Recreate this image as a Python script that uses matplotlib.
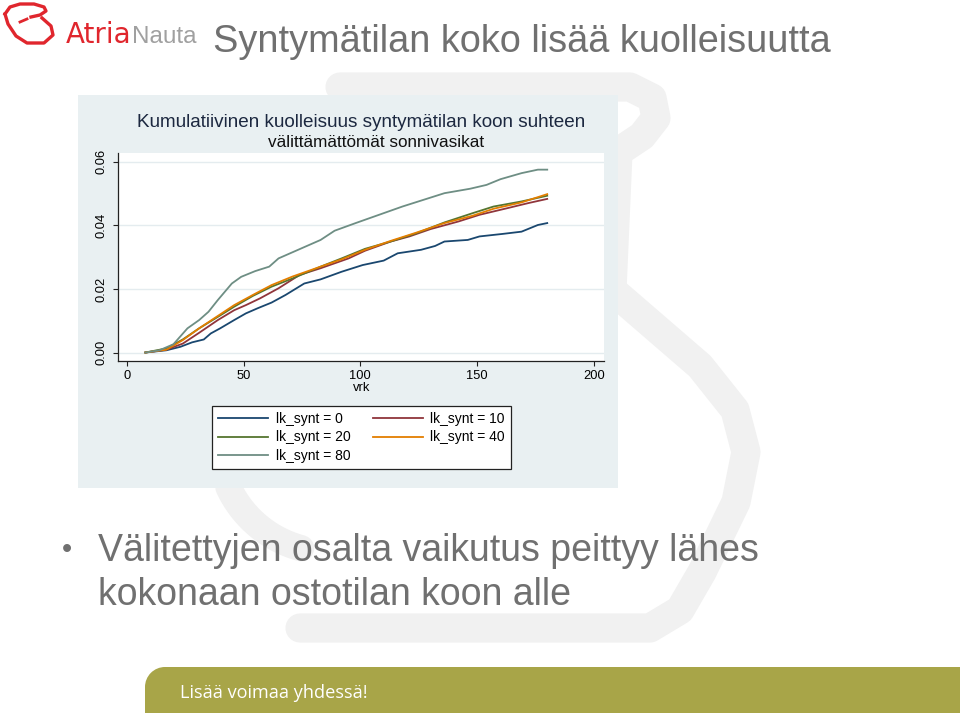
import matplotlib
matplotlib.use('Agg')
import matplotlib.pyplot as plt
from matplotlib import font_manager
from matplotlib.patches import Rectangle, Circle
import numpy as np

# cumulative mortality (days, share)
days_0 = [8, 17, 23, 28, 33, 36, 40, 46, 51, 56, 62, 68, 76, 83, 92, 101, 110,
          116, 126, 132, 136, 146, 151, 161, 169, 176, 180]
mort_0 = [0, 0.0007, 0.0018, 0.0032, 0.0041, 0.006, 0.0076, 0.0102, 0.0123,
          0.0139, 0.0157, 0.0181, 0.0217, 0.023, 0.0254, 0.0275, 0.0289, 0.0312,
          0.0323, 0.0335, 0.0349, 0.0354, 0.0365, 0.0373, 0.038, 0.0401, 0.0407]

days_10 = [8, 17, 24, 31, 39, 46, 51, 57, 65, 74, 83, 95, 102, 113, 121, 130,
           142, 151, 163, 172, 180]
mort_10 = [0, 0.0009, 0.0028, 0.0062, 0.0102, 0.0133, 0.0149, 0.017, 0.0202,
           0.0244, 0.0265, 0.0296, 0.032, 0.0349, 0.0365, 0.0388, 0.0412, 0.0433,
           0.0454, 0.047, 0.0483]

days_20 = [8, 17, 24, 31, 39, 46, 54, 62, 71, 83, 92, 102, 113, 124, 136, 148,
           157, 169, 180]
mort_20 = [0, 0.0013, 0.0041, 0.0076, 0.0112, 0.0144, 0.0178, 0.0207, 0.0233,
           0.027, 0.0296, 0.0326, 0.0349, 0.0375, 0.0409, 0.0438, 0.0459, 0.0475,
           0.0493]

days_40 = [8, 17, 24, 31, 39, 46, 54, 62, 71, 83, 92, 102, 113, 124, 136, 148,
           157, 169, 180]
mort_40 = [0, 0.0009, 0.0039, 0.0076, 0.0115, 0.0149, 0.0181, 0.0212, 0.0239,
           0.027, 0.0293, 0.0323, 0.0351, 0.0377, 0.0407, 0.043, 0.0452, 0.0472,
           0.0498]

days_80 = [8, 14, 20, 26, 31, 35, 39, 45, 49, 55, 61, 65, 74, 83, 89, 98, 108,
           118, 127, 136, 147, 154, 160, 169, 176, 180]
mort_80 = [0, 0.0007, 0.0026, 0.0076, 0.0102, 0.0128, 0.0165, 0.0217, 0.0238,
           0.0256, 0.027, 0.0296, 0.0325, 0.0354, 0.0383, 0.0407, 0.0433, 0.0459,
           0.048, 0.0501, 0.0515, 0.0527, 0.0545, 0.0564, 0.0575, 0.0575]

series_labels = ['lk_synt = 0', 'lk_synt = 10', 'lk_synt = 20',
                 'lk_synt = 40', 'lk_synt = 80']
series_colors = ['#1a476f', '#90353b', '#55752f', '#e37e00', '#6e8e84']

x_ticks = [0, 50, 100, 150, 200]
y_ticks = [0.00, 0.02, 0.04, 0.06]

slide_title = 'Syntymätilan koko lisää kuolleisuutta'
chart_title = 'Kumulatiivinen kuolleisuus syntymätilan koon suhteen'
chart_subtitle = 'välittämättömät sonnivasikat'
bullet_lines = ['Välitettyjen osalta vaikutus peittyy lähes',
                'kokonaan ostotilan koon alle']
footer_text = 'Lisää voimaa yhdessä!'

installed = {f.name for f in font_manager.fontManager.ttflist}


def pick(*families):
    for fam in families:
        if fam in installed:
            return fam
    return 'DejaVu Sans'


plt.rcParams['font.family'] = ['Liberation Sans', 'DejaVu Sans']

W, H = 960, 715
fig = plt.figure(figsize=(W / 100, H / 100), dpi=100)
fig.patch.set_facecolor('white')


def fx(px):
    return px / W


def fy(py):
    return 1 - py / H


# slide background, pixel coordinates
bg = fig.add_axes([0, 0, 1, 1], zorder=0)
bg.set_xlim(0, W)
bg.set_ylim(H, 0)
bg.axis('off')

# watermark (big faint logo outline)
wm = '#f1f1f1'
wx = [340, 630, 652, 656, 642, 618, 612, 700, 735, 746, 736, 702, 680, 650, 300]
wy = [87, 87, 98, 118, 136, 152, 290, 366, 410, 452, 502, 572, 610, 628, 628]
bg.plot(wx, wy, color=wm, lw=21, solid_joinstyle='round',
        solid_capstyle='round', zorder=1)
arc = np.radians(np.linspace(105, 155, 20))
bg.plot(330 + 112 * np.cos(arc), 440 + 112 * np.sin(arc), color=wm, lw=19,
        solid_capstyle='round', zorder=1)

# chart background (Stata graph region)
bg.add_patch(Rectangle((78, 95), 540, 393, facecolor='#e9f0f2',
                       edgecolor='none', zorder=2))

# logo
red = '#e0262d'
bg.plot([5, 10, 20, 34, 44, 46, 40, 31], [14, 7, 4, 4, 7, 11, 15, 17],
        color=red, lw=2.4, solid_joinstyle='round', zorder=3)
bg.plot([5, 8, 16, 27, 44, 53, 51, 42], [14, 24, 36, 43, 43, 35, 26, 18],
        color=red, lw=2.4, solid_joinstyle='round', zorder=3)
bg.plot([20, 27], [22, 19], color=red, lw=2.0, zorder=3)
tA = bg.text(66, 43, 'Atria', color=red, fontsize=20, family='DejaVu Sans',
             ha='left', va='baseline', zorder=3)
fig.canvas.draw()
bbA = tA.get_window_extent()
bg.text(66 + bbA.width, 43, 'Nauta', color='#a0a0a0', fontsize=17.5,
        ha='left', va='baseline', zorder=3)

# slide title
bg.text(213, 52, slide_title, color='#707070', fontsize=27.3, ha='left',
        va='baseline', zorder=3)

# chart titles
bg.text(361, 127, chart_title, color='#1c2840', fontsize=13.6, ha='center',
        va='baseline', zorder=3)
bg.text(376, 147, chart_subtitle, color='#111111', fontsize=12.3, ha='center',
        va='baseline', zorder=3)

# bullet text
bg.text(62, 558, '\u2022', color='#707070', fontsize=21, ha='left',
        va='baseline', zorder=3)
bg.text(98, 561, bullet_lines[0], color='#707070', fontsize=27, ha='left',
        va='baseline', zorder=3)
bg.text(98, 605, bullet_lines[1], color='#707070', fontsize=27, ha='left',
        va='baseline', zorder=3)

# footer bar
green = '#a8a548'
bg.add_patch(Rectangle((165, 667), W - 165, 46, facecolor=green,
                       edgecolor='none', zorder=2))
bg.add_patch(Rectangle((145, 687), 25, 26, facecolor=green,
                       edgecolor='none', zorder=2))
bg.add_patch(Circle((165, 687), 20, facecolor=green, edgecolor='none',
                    zorder=2))
bg.text(180, 698, footer_text, color='white', fontsize=13.1,
        family=pick('Open Sans', 'Lato'), ha='left', va='baseline', zorder=3)

# the chart itself
ax = fig.add_axes([fx(118.3), fy(361), fx(604) - fx(118.3),
                   (361 - 153.3) / H], zorder=2)
ax.set_facecolor('white')

all_days = [days_0, days_10, days_20, days_40, days_80]
all_mort = [mort_0, mort_10, mort_20, mort_40, mort_80]
lines = []
for d, m, lab, col in zip(all_days, all_mort, series_labels, series_colors):
    ln, = ax.plot(d, m, color=col, lw=1.3, label=lab)
    lines.append(ln)

ax.set_xlim(-3.6, 204.3)
ax.set_ylim(-0.00267, 0.06264)
ax.set_xticks(x_ticks)
ax.set_yticks(y_ticks)
ax.set_yticklabels(['%.2f' % v for v in y_ticks], rotation=90, va='center')
ax.yaxis.grid(True, color='#e4ecef', lw=1)
ax.set_axisbelow(True)
for s in ['top', 'right']:
    ax.spines[s].set_visible(False)
for s in ['left', 'bottom']:
    ax.spines[s].set_color('#222222')
    ax.spines[s].set_linewidth(0.9)
ax.tick_params(direction='out', length=3.6, width=0.8, color='#222222',
               labelsize=9.3, pad=3)
ax.tick_params(axis='y', pad=4)
ax.set_xlabel('vrk', fontsize=9.3, labelpad=0)

# Stata fills rows first: reorder for matplotlib's column filling
order = [0, 2, 4, 1, 3]
leg = ax.legend([lines[i] for i in order], [series_labels[i] for i in order],
                ncol=2, loc='upper center',
                bbox_to_anchor=(fx(361.5), fy(406)),
                bbox_transform=fig.transFigure, borderaxespad=0, fontsize=10,
                handlelength=3.6, handletextpad=0.55, columnspacing=1.6,
                labelspacing=0.3, borderpad=0.45, fancybox=False,
                framealpha=1, edgecolor='#222222')
leg.get_frame().set_linewidth(0.9)

fig.savefig('out.png', dpi=100, facecolor='white')
